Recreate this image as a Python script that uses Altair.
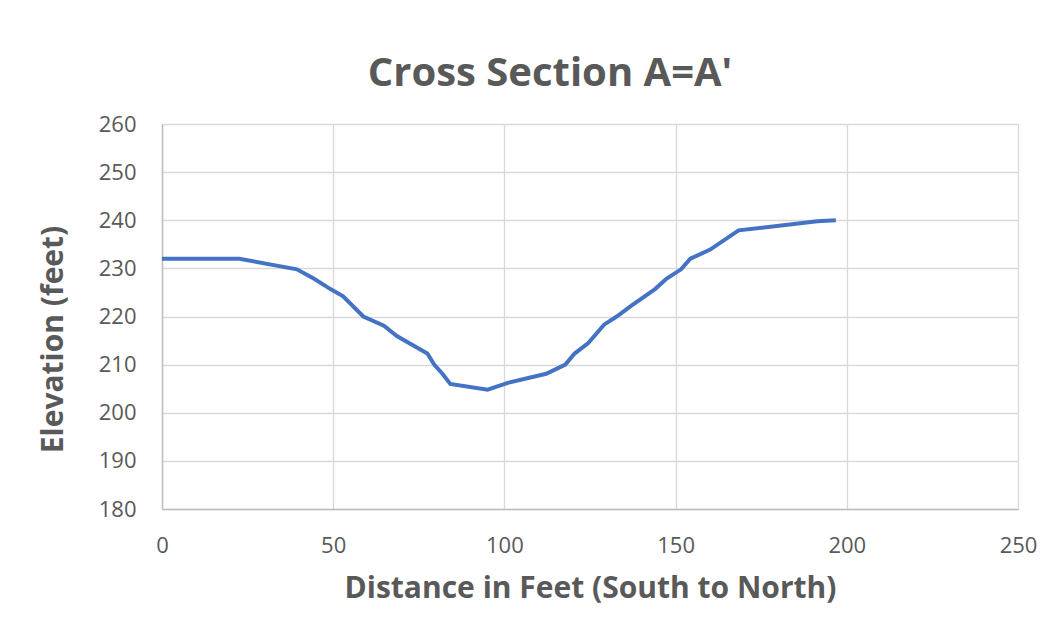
import altair as alt
import pandas as pd

distance = [0, 22.6, 39.4, 44.3, 49.2, 52.9, 58.8, 64.8, 68.7, 77.5, 79.5, 81.9, 84.2,
            95.1, 101, 112.2, 117.8, 120.5, 124.5, 129.1, 132.8, 137.2, 144, 147.4,
            151.6, 154.3, 160.1, 168.4, 191.4, 196.8]
elevation = [232, 232, 229.8, 227.9, 225.7, 224.2, 220, 218.1, 215.9, 212.3, 210, 208.1, 206,
             204.8, 206.2, 208.1, 210, 212.3, 214.5, 218.3, 220, 222.3, 225.7, 227.9,
             229.8, 232, 233.9, 237.9, 239.8, 240]

df = pd.DataFrame({"distance": distance, "elevation": elevation})

FONT = "Open Sans"
GREY = "#595959"

chart = alt.Chart(df).mark_line(color="#4472C4", strokeWidth=4).encode(
    x=alt.X("distance:Q",
            scale=alt.Scale(domain=[0, 250], nice=False),
            axis=alt.Axis(title="Distance in Feet (South to North)", values=[0, 50, 100, 150, 200, 250],
                          ticks=False, tickSize=0, labelPadding=43, labelBaseline="alphabetic",
                          labelFlush=False,
                          labelFontSize=22, labelColor=GREY, labelFont=FONT,
                          titleFontSize=30, titleFont=FONT, titleFontWeight="bold", titleColor=GREY,
                          titleY=88, titleBaseline="alphabetic",
                          domainColor="#bfbfbf", domainWidth=1.5,
                          gridColor="#d9d9d9", gridWidth=1.3)),
    y=alt.Y("elevation:Q",
            scale=alt.Scale(domain=[180, 260], nice=False, zero=False),
            axis=alt.Axis(title="Elevation (feet)", values=[180, 190, 200, 210, 220, 230, 240, 250, 260],
                          ticks=False, tickSize=0, labelPadding=26,
                          labelFontSize=22, labelColor=GREY, labelFont=FONT,
                          titleFontSize=30, titleFont=FONT, titleFontWeight="bold", titleColor=GREY,
                          titleAngle=-90, titleX=-100, titleY=215, titleBaseline="alphabetic",
                          titleAlign="center",
                          domainColor="#bfbfbf", domainWidth=1.5,
                          gridColor="#d9d9d9", gridWidth=1.3)),
).properties(
    width=856,
    height=385,
    title=alt.TitleParams("Cross Section A=A'", fontSize=40, font=FONT, fontWeight="bold",
                          color=GREY, anchor="middle", dx=-40, dy=54, offset=41, baseline="alphabetic"),
    autosize=alt.AutoSizeParams(type="none"),
    padding={"left": 154, "top": 116, "right": 30, "bottom": 110},
).configure_view(
    stroke="#d9d9d9", strokeWidth=1.3
).configure(background="white")

chart.save("out.html", embed_options={"renderer": "svg", "actions": False})
